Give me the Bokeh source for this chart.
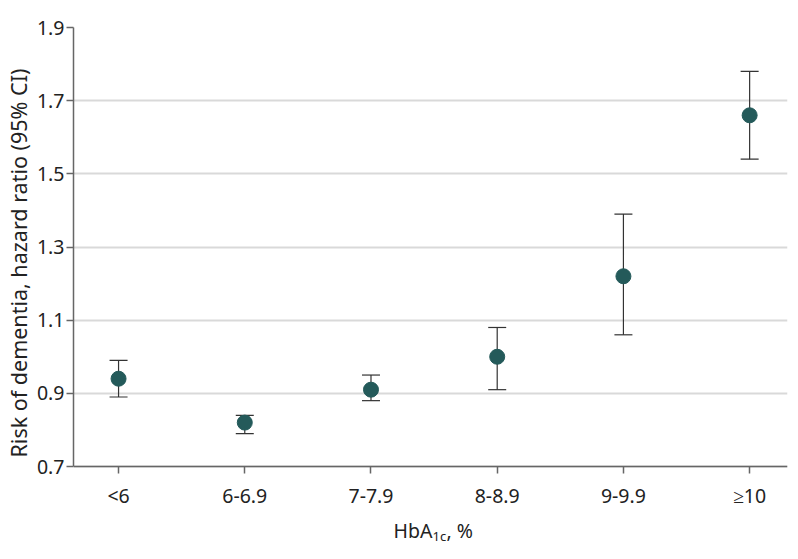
from bokeh.plotting import figure
from bokeh.models import ColumnDataSource, Whisker, Label, FixedTicker, TeeHead, Title
from bokeh.embed import file_html
from bokeh.resources import INLINE

categories = ["<6", "6-6.9", "7-7.9", "8-8.9", "9-9.9", "≥10"]
hr = [0.94, 0.82, 0.91, 1.00, 1.22, 1.66]
lower = [0.89, 0.79, 0.88, 0.91, 1.06, 1.54]
upper = [0.99, 0.84, 0.95, 1.08, 1.39, 1.78]
y_ticks = [0.7, 0.9, 1.1, 1.3, 1.5, 1.7, 1.9]
y_axis_min, y_axis_max = 0.7, 1.9

FONT = "Noto Sans"
COLOR = "#245a5a"
TXT = "#222222"

xs = list(range(len(categories)))
src = ColumnDataSource(dict(x=xs, hr=hr, lo=lower, up=upper))

# frame extends below the x axis so the axis title (with subscript) can be drawn inside it
p = figure(width=798, height=559, output_backend="svg", toolbar_location=None,
           x_range=(-0.357, 5.3), y_range=(0.4704, y_axis_max),
           min_border_left=73, min_border_right=11, min_border_top=27, min_border_bottom=9)
p.outline_line_color = None
p.background_fill_color = "white"

w = Whisker(source=src, base="x", lower="lo", upper="up", line_color="#333333", line_width=1.2,
            lower_head=TeeHead(size=18, line_color="#333333", line_width=1.2),
            upper_head=TeeHead(size=18, line_color="#333333", line_width=1.2))
p.add_layout(w)
p.scatter("x", "hr", source=src, size=15, color=COLOR, line_color=COLOR)

p.xgrid.grid_line_color = None
p.ygrid.grid_line_color = "#d9d9d9"
p.ygrid.grid_line_width = 2
p.ygrid.ticker = FixedTicker(ticks=y_ticks)

p.yaxis.ticker = FixedTicker(ticks=y_ticks)
p.yaxis.bounds = (y_axis_min, y_axis_max)
p.yaxis.major_label_overrides = {t: f"{t:.1f}" for t in y_ticks}
p.xaxis.ticker = FixedTicker(ticks=xs)
p.xaxis.fixed_location = y_axis_min
p.xaxis.major_label_overrides = {i: c for i, c in enumerate(categories)}

for ax in (p.xaxis[0], p.yaxis[0]):
    ax.axis_line_color = "#666666"
    ax.axis_line_width = 1.5
    ax.major_tick_line_color = "#666666"
    ax.major_tick_line_width = 1.5
    ax.major_tick_in = 0
    ax.major_tick_out = 7
    ax.minor_tick_line_color = None
    ax.major_label_text_font = FONT
    ax.major_label_text_font_size = "19.5px"
    ax.major_label_text_color = TXT

p.yaxis.major_label_standoff = 2
p.xaxis.major_label_standoff = 8

# y-axis title as a left-side title, starting where the reference's does
ytitle = Title(text="Risk of dementia, hazard ratio (95% CI)", align="left", offset=93,
               text_font=FONT, text_font_size="21.5px", text_font_style="normal",
               text_color=TXT, standoff=2)
p.add_layout(ytitle, "left")

# x-axis title with subscript (screen units relative to the plot frame bottom-left)
p.add_layout(Label(x=320, y=20, x_units="screen", y_units="screen", text="HbA",
                   text_font=FONT, text_font_size="19.5px", text_color=TXT,
                   text_baseline="alphabetic"))
p.add_layout(Label(x=359, y=15, x_units="screen", y_units="screen", text="1c",
                   text_font=FONT, text_font_size="13px", text_color=TXT,
                   text_baseline="alphabetic"))
p.add_layout(Label(x=373, y=20, x_units="screen", y_units="screen", text=", %",
                   text_font=FONT, text_font_size="19.5px", text_color=TXT,
                   text_baseline="alphabetic"))

open("out.html", "w").write(file_html(p, INLINE))
